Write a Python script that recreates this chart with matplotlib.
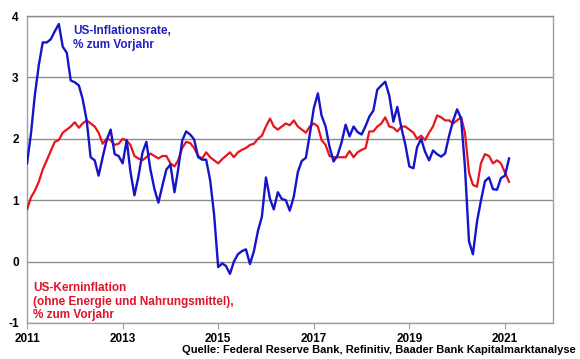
"""US inflation vs core inflation, % yoy"""
import matplotlib
matplotlib.use("Agg")
import matplotlib.pyplot as plt
import pandas as pd

plt.rcParams['font.family'] = ['Liberation Sans', 'DejaVu Sans']
plt.rcParams['font.weight'] = 'bold'

# monthly values, Jan 2011 - Feb 2021
cpi = [1.6, 2.1, 2.7, 3.2, 3.57, 3.57, 3.62, 3.75, 3.87, 3.5, 3.4, 2.95,
       2.92, 2.87, 2.65, 2.3, 1.7, 1.65, 1.4, 1.7, 1.98, 2.15, 1.75, 1.72,
       1.6, 1.98, 1.47, 1.08, 1.38, 1.77, 1.95, 1.5, 1.18, 0.96, 1.24, 1.5,
       1.58, 1.13, 1.5, 1.97, 2.12, 2.07, 1.99, 1.7, 1.66, 1.66, 1.32, 0.76,
       -0.09, -0.03, -0.07, -0.2, 0.0, 0.12, 0.17, 0.2, -0.04, 0.17, 0.5, 0.73,
       1.37, 1.02, 0.85, 1.13, 1.02, 1.0, 0.83, 1.06, 1.46, 1.64, 1.69, 2.07,
       2.5, 2.74, 2.38, 2.2, 1.87, 1.63, 1.73, 1.94, 2.23, 2.04, 2.2, 2.11,
       2.07, 2.21, 2.36, 2.46, 2.8, 2.87, 2.93, 2.7, 2.28, 2.52, 2.18, 1.91,
       1.55, 1.52, 1.86, 2.0, 1.79, 1.65, 1.81, 1.75, 1.71, 1.76, 2.05, 2.29,
       2.48, 2.33, 1.54, 0.33, 0.12, 0.65, 0.99, 1.31, 1.37, 1.18, 1.17, 1.36,
       1.4, 1.68]
core = [0.85, 1.05, 1.15, 1.3, 1.5, 1.65, 1.8, 1.95, 1.98, 2.1, 2.15, 2.2,
        2.27, 2.18, 2.25, 2.3, 2.25, 2.2, 2.1, 1.92, 2.0, 1.98, 1.9, 1.92,
        2.0, 1.97, 1.9, 1.72, 1.68, 1.65, 1.7, 1.76, 1.72, 1.68, 1.72, 1.72,
        1.6, 1.55, 1.65, 1.85, 1.95, 1.93, 1.85, 1.72, 1.68, 1.78, 1.7, 1.65,
        1.6, 1.67, 1.72, 1.78, 1.7, 1.78, 1.82, 1.85, 1.9, 1.92, 2.0, 2.05,
        2.2, 2.33, 2.2, 2.15, 2.2, 2.25, 2.22, 2.3, 2.2, 2.15, 2.1, 2.2,
        2.25, 2.2, 1.98, 1.9, 1.72, 1.7, 1.7, 1.7, 1.7, 1.8, 1.7, 1.78,
        1.82, 1.85, 2.12, 2.12, 2.2, 2.25, 2.35, 2.2, 2.18, 2.12, 2.2, 2.2,
        2.15, 2.1, 2.0, 2.05, 1.98, 2.1, 2.2, 2.38, 2.35, 2.3, 2.3, 2.25,
        2.3, 2.35, 2.1, 1.45, 1.25, 1.22, 1.6, 1.75, 1.72, 1.6, 1.65, 1.6,
        1.45, 1.3]
dates = pd.date_range('2011-01-01', periods=len(cpi), freq='MS')

year_ticks = ['2011', '2013', '2015', '2017', '2019', '2021']
y_ticks = [-1, 0, 1, 2, 3, 4]

fig = plt.figure(figsize=(5.8, 3.59), dpi=100)
ax = fig.add_axes([0.0466, 0.1003, 0.9064, 0.8551])

ax.plot(dates, core, color='#e8141e', lw=1.6, zorder=3)
ax.plot(dates, cpi, color='#1414c8', lw=1.7, zorder=4)

ax.set_xlim(pd.Timestamp('2011-01-01'), pd.Timestamp('2022-01-01'))
ax.set_ylim(-1, 4)
ax.set_yticks(y_ticks)
ax.set_yticklabels([str(v) for v in y_ticks])
ax.set_xticks([pd.Timestamp(y + '-01-01') for y in year_ticks])
ax.set_xticklabels(year_ticks)
ax.grid(axis='y', color='#8c8c8c', lw=1)
ax.set_axisbelow(True)
for s in ax.spines.values():
    s.set_color('#a0a0a0')
    s.set_linewidth(1)
ax.spines['top'].set_color('#8c8c8c')
ax.tick_params(axis='x', length=4, color='#a0a0a0', labelsize=8.5, pad=3)
ax.tick_params(axis='y', length=0, labelsize=8.5, pad=6)

ax.text(0.087, 0.97, 'US-Inflationsrate,\n% zum Vorjahr', transform=ax.transAxes,
        color='#2020c0', fontsize=8.5, fontweight='bold', va='top', linespacing=1.15)
ax.text(0.012, 0.132, 'US-Kerninflation\n(ohne Energie und Nahrungsmittel),\n% zum Vorjahr',
        transform=ax.transAxes, color='#e0142a', fontsize=8.5, fontweight='bold',
        va='top', linespacing=1.15)
fig.text(0.993, 0.012, 'Quelle: Federal Reserve Bank, Refinitiv, Baader Bank Kapitalmarktanalyse',
         ha='right', va='bottom', fontsize=8, fontweight='bold')

fig.savefig('out.png', dpi=100)
